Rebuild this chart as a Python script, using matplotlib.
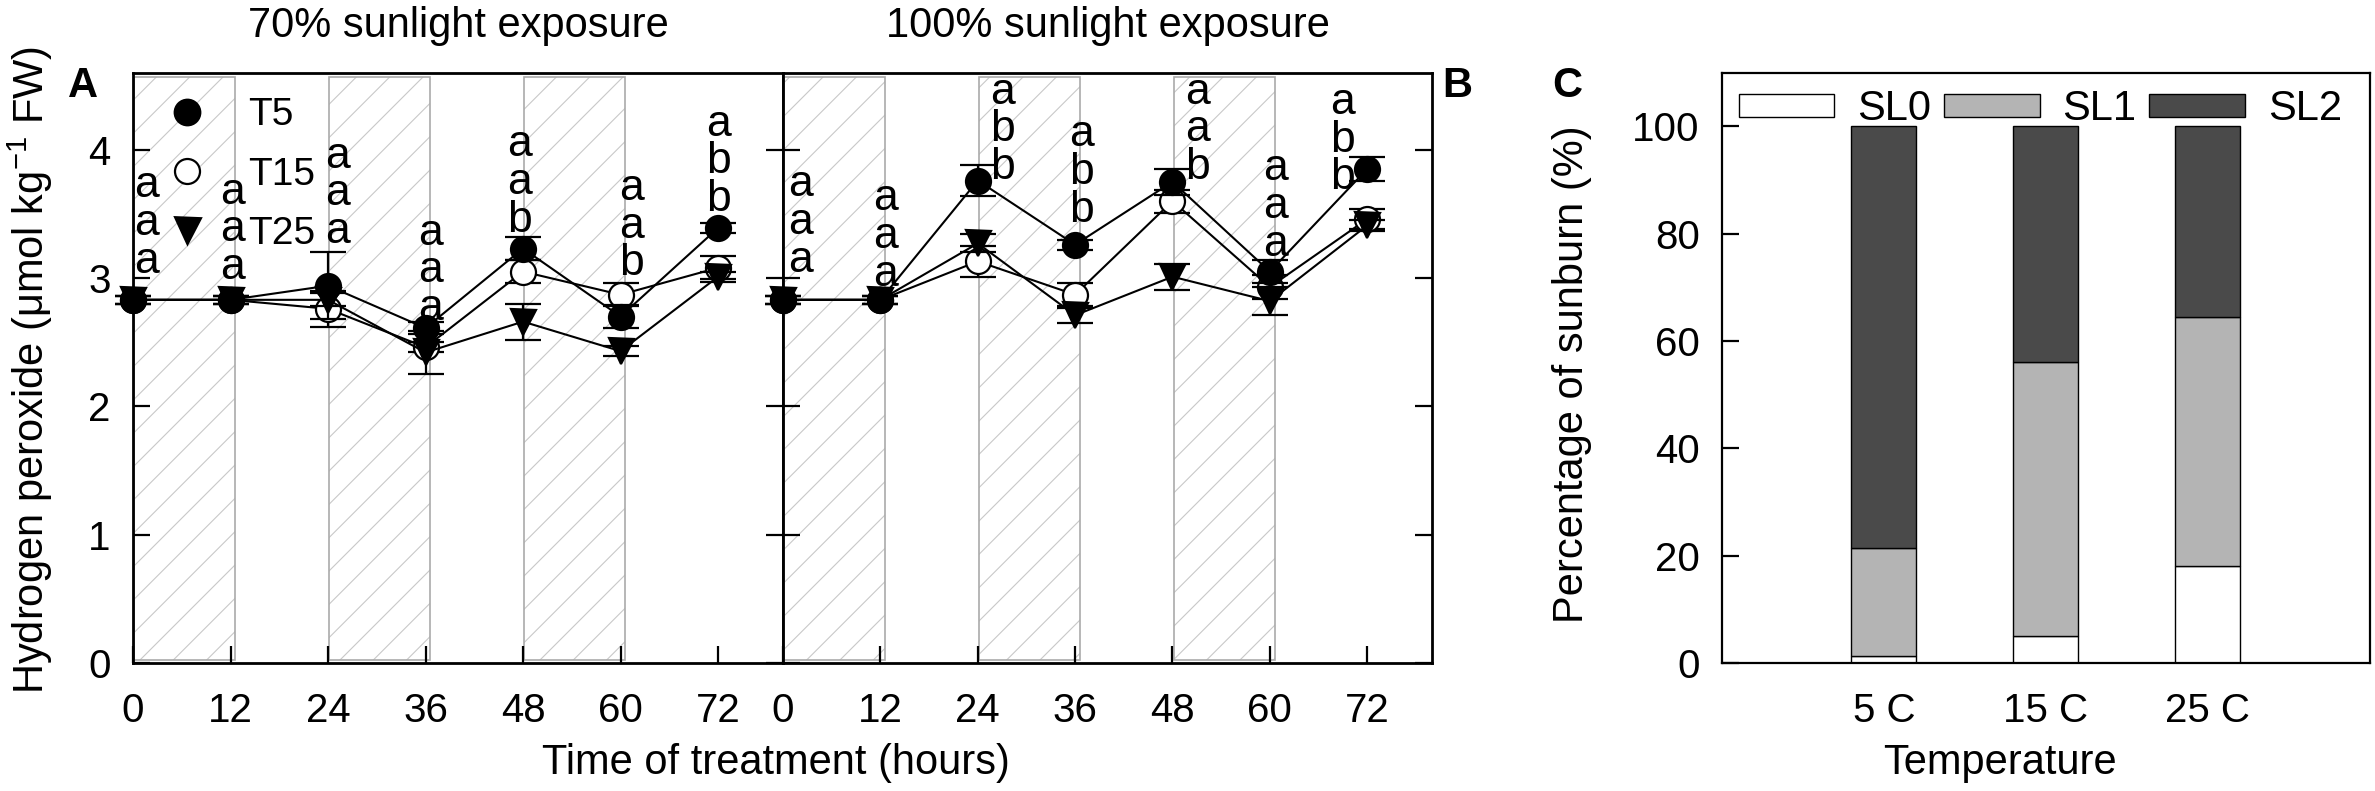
import matplotlib.pyplot as plt
from matplotlib.patches import Rectangle
from matplotlib.lines import Line2D

plt.rcParams['font.family'] = ['Liberation Sans', 'DejaVu Sans']
plt.rcParams['mathtext.fontset'] = 'custom'
plt.rcParams['mathtext.rm'] = 'Liberation Sans'
plt.rcParams['hatch.linewidth'] = 0.4

hours = [0, 12, 24, 36, 48, 60, 72]
dark_starts = [0, 24, 48]

# 70% sunlight exposure (panel A)
a_t5 = [2.83, 2.83, 2.94, 2.61, 3.23, 2.70, 3.39]
a_t15 = [2.83, 2.83, 2.76, 2.46, 3.05, 2.87, 3.08]
a_t25 = [2.83, 2.83, 2.83, 2.42, 2.66, 2.43, 3.01]
a_t5_err = [0.03, 0.03, 0.26, 0.05, 0.09, 0.09, 0.04]
a_t15_err = [0.03, 0.03, 0.14, 0.04, 0.09, 0.09, 0.09]
a_t25_err = [0.03, 0.03, 0.05, 0.17, 0.14, 0.04, 0.04]

# 100% sunlight exposure (panel B)
b_t5 = [2.83, 2.83, 3.76, 3.26, 3.75, 3.05, 3.85]
b_t15 = [2.83, 2.83, 3.13, 2.87, 3.60, 2.93, 3.46]
b_t25 = [2.83, 2.83, 3.27, 2.71, 3.01, 2.82, 3.41]
b_t5_err = [0.03, 0.03, 0.12, 0.04, 0.10, 0.09, 0.09]
b_t15_err = [0.03, 0.03, 0.12, 0.09, 0.09, 0.09, 0.08]
b_t25_err = [0.03, 0.03, 0.07, 0.06, 0.10, 0.11, 0.04]

# significance letters (top to bottom)
a_letters = ['aaa', 'aaa', 'aaa', 'aaa', 'aab', 'aab', 'abb']
a_letter_x = [1.6, 12.3, 25.2, 36.6, 47.6, 61.3, 72.0]
a_letter_top = [3.75, 3.70, 3.98, 3.38, 4.07, 3.73, 4.23]
b_letters = ['aaa', 'aaa', 'abb', 'abb', 'aab', 'aaa', 'abb']
b_letter_x = [2.2, 12.6, 27.0, 36.8, 51.1, 60.7, 68.9]
b_letter_top = [3.76, 3.65, 4.48, 4.15, 4.48, 3.88, 4.40]
letter_step = 0.295

# sunburn levels (panel C)
temps = ['5 C', '15 C', '25 C']
sl0 = [1.2, 5.0, 18.1]
sl1 = [20.3, 51.0, 46.3]
sl2 = [78.5, 44.0, 35.6]

fig = plt.figure(figsize=(11.875, 3.955), dpi=200)
axA = fig.add_axes([0.056, 0.162, 0.2737, 0.746])
axB = fig.add_axes([0.3297, 0.162, 0.2733, 0.746])
axC = fig.add_axes([0.725, 0.162, 0.2728, 0.746])


def time_panel(ax, t5, t15, t25, e5, e15, e25, letters, lx, ltop):
    for s in dark_starts:
        ax.add_patch(Rectangle((s + 0.15, 0.02), 12.45, 4.55, facecolor='none',
                               edgecolor='#c8c8c8', hatch='//', lw=0, zorder=0))
        ax.add_patch(Rectangle((s + 0.15, 0.02), 12.45, 4.55, fill=False,
                               edgecolor='#aaaaaa', lw=0.6, zorder=0.5))
    styles = [(t15, e15, 'o', 'white'), (t25, e25, 'v', 'black'), (t5, e5, 'o', 'black')]
    for z, (vals, err, mk, fc) in enumerate(styles):
        cont = ax.errorbar(hours, vals, yerr=err, fmt='-' + mk, color='black', mfc=fc,
                           mec='black', ms=9, mew=0.8, lw=0.75, elinewidth=0.8,
                           capsize=6.5, capthick=0.8, zorder=3 + z)
        for art in cont.get_children():
            art.set_clip_on(False)
    for txt, x, top in zip(letters, lx, ltop):
        for i, ch in enumerate(txt):
            ax.text(x, top - i * letter_step - 0.03, ch, ha='center', va='center',
                    fontsize=16, zorder=10)
    ax.set_xlim(0, 80)
    ax.set_ylim(0, 4.6)
    ax.set_xticks(hours)
    ax.set_yticks([0, 1, 2, 3, 4])
    ax.tick_params(direction='in', length=6, width=0.8, labelsize=14.5,
                   right=True, top=False)
    ax.tick_params(axis='x', pad=10.5)
    ax.tick_params(axis='y', pad=8)
    for sp in ax.spines.values():
        sp.set_linewidth(1.0)


time_panel(axA, a_t5, a_t15, a_t25, a_t5_err, a_t15_err, a_t25_err,
           a_letters, a_letter_x, a_letter_top)
time_panel(axB, b_t5, b_t15, b_t25, b_t5_err, b_t15_err, b_t25_err,
           b_letters, b_letter_x, b_letter_top)
axB.tick_params(axis='y', labelleft=False)
axA.set_title('70% sunlight exposure', fontsize=15, pad=13)
axB.set_title('100% sunlight exposure', fontsize=15, pad=13)

leg_handles = [Line2D([], [], ls='none', marker='o', mfc='black', mec='black', ms=9),
               Line2D([], [], ls='none', marker='o', mfc='white', mec='black', ms=9, mew=0.8),
               Line2D([], [], ls='none', marker='v', mfc='black', mec='black', ms=9)]
axA.legend(leg_handles, ['T5', 'T15', 'T25'], loc='upper left', bbox_to_anchor=(0.0, 0.985),
           frameon=False, fontsize=14, labelspacing=0.6, borderaxespad=0,
           handletextpad=0.55)

# panel C
xs = [1, 2, 3]
axC.bar(xs, sl0, width=0.4, color='white', edgecolor='black', lw=0.5, label='SL0')
axC.bar(xs, sl1, width=0.4, bottom=sl0, color='#b4b4b4', edgecolor='black', lw=0.5, label='SL1')
bottom2 = [a + b for a, b in zip(sl0, sl1)]
axC.bar(xs, sl2, width=0.4, bottom=bottom2, color='#4a4a4a', edgecolor='black', lw=0.5, label='SL2')
axC.set_xlim(0, 4)
axC.set_ylim(0, 110)
axC.set_xticks(xs)
axC.set_xticklabels(temps)
axC.set_yticks([0, 20, 40, 60, 80, 100])
axC.tick_params(direction='in', length=6, width=0.8, labelsize=14.5)
axC.tick_params(axis='x', length=0, pad=10.5)
axC.tick_params(axis='y', pad=8)
for sp in axC.spines.values():
    sp.set_linewidth(0.8)
axC.legend(loc='upper left', bbox_to_anchor=(0.0, 1.0), ncol=3, frameon=False, fontsize=15,
           handlelength=2.3, handleheight=0.45, handletextpad=0.55, columnspacing=0.3,
           borderaxespad=0.2, borderpad=0.2)

# labels
fig.text(0.0126, 0.532, r'Hydrogen peroxide (μmol kg$^{-1}$ FW)', rotation=90,
         ha='center', va='center', fontsize=15)
fig.text(0.3267, 0.035, 'Time of treatment (hours)', ha='center', va='center', fontsize=15)
fig.text(0.662, 0.527, 'Percentage of sunburn (%)', rotation=90,
         ha='center', va='center', fontsize=15)
fig.text(0.842, 0.035, 'Temperature', ha='center', va='center', fontsize=15)
fig.text(0.035, 0.891, 'A', ha='center', va='center', fontsize=15, fontweight='bold')
fig.text(0.6135, 0.891, 'B', ha='center', va='center', fontsize=15, fontweight='bold')
fig.text(0.660, 0.891, 'C', ha='center', va='center', fontsize=15, fontweight='bold')

fig.savefig('out.png', dpi=200)
